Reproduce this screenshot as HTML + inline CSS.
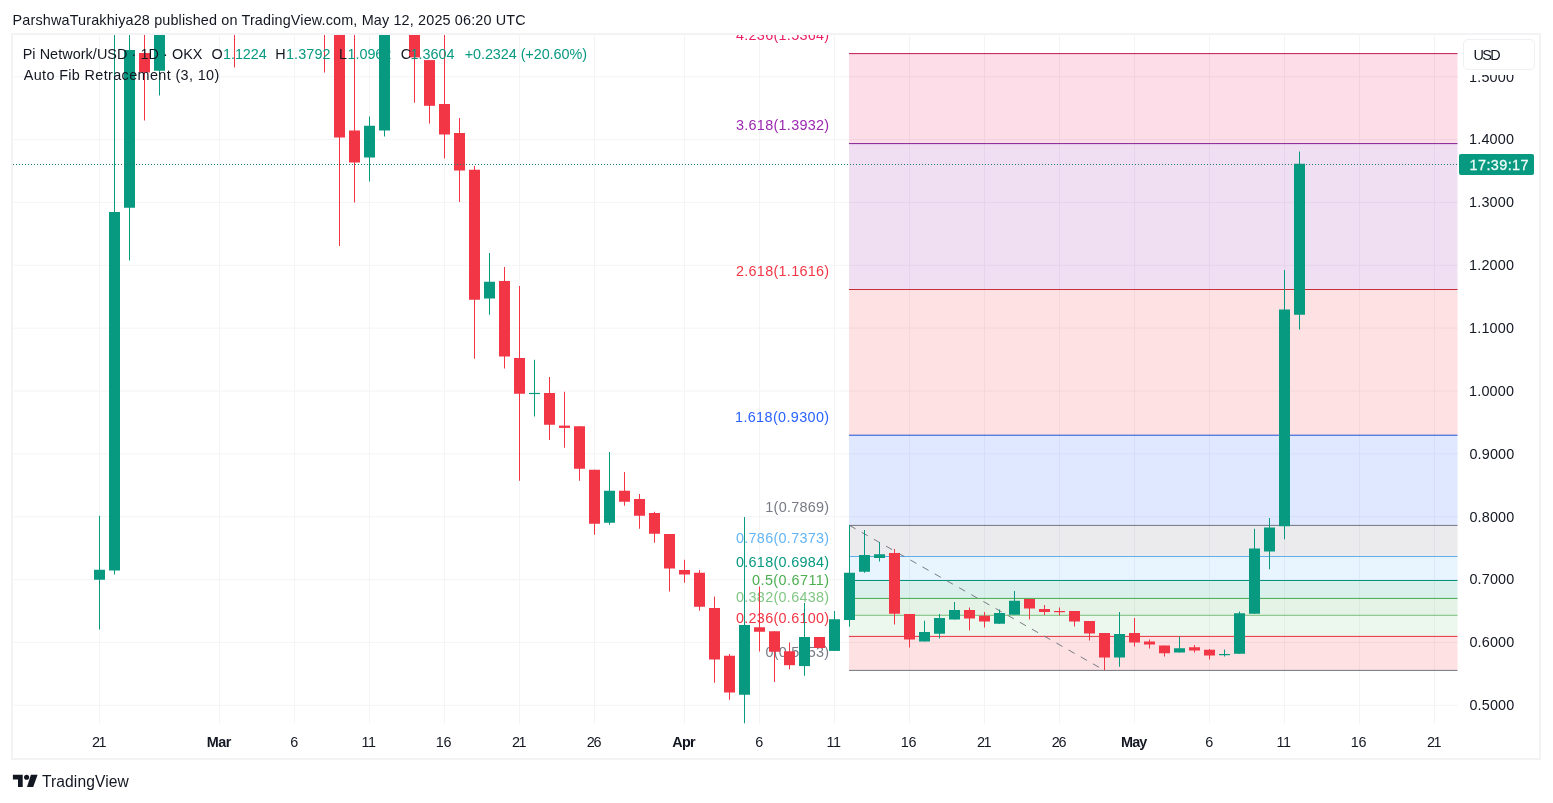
<!DOCTYPE html>
<html lang="en"><head><meta charset="utf-8"><title>Pi Network/USD chart - TradingView</title>
<style>
html,body{margin:0;padding:0;background:#fff}
body{width:1553px;height:803px;position:relative;overflow:hidden;font-family:"Liberation Sans", Arial, sans-serif;font-size:14.4px;color:#131722}
.t{position:absolute;white-space:pre;line-height:14.4px;height:14.4px;margin:0;padding:0}
.g{color:#089981}
.b{font-weight:bold}
#frame{position:absolute;left:11.3px;top:33.2px;width:1530px;height:726.7px;border:2px solid #f3f3f5;box-sizing:border-box}
#chart{position:absolute;left:0;top:0}
#usd{position:absolute;left:1462.5px;top:39px;width:72px;height:31px;box-sizing:border-box;border:1px solid #eff0f3;border-radius:5px;background:#fff}
#cd{position:absolute;left:1458.8px;top:153.9px;width:74.9px;height:20.9px;background:#089981;border-radius:2px}
#cd .t{color:#fff}
</style></head><body>
<svg id="chart" width="1553" height="803" viewBox="0 0 1553 803">
<defs><clipPath id="cp"><rect x="13" y="34.5" width="1445" height="689.0"/></clipPath></defs>
<g id="grid" fill="#f3f4f6">
<rect x="99" y="34.5" width="1" height="689.0"/>
<rect x="219" y="34.5" width="1" height="689.0"/>
<rect x="294" y="34.5" width="1" height="689.0"/>
<rect x="369" y="34.5" width="1" height="689.0"/>
<rect x="444" y="34.5" width="1" height="689.0"/>
<rect x="519" y="34.5" width="1" height="689.0"/>
<rect x="594" y="34.5" width="1" height="689.0"/>
<rect x="684" y="34.5" width="1" height="689.0"/>
<rect x="759" y="34.5" width="1" height="689.0"/>
<rect x="834" y="34.5" width="1" height="689.0"/>
<rect x="909" y="34.5" width="1" height="689.0"/>
<rect x="984" y="34.5" width="1" height="689.0"/>
<rect x="1059" y="34.5" width="1" height="689.0"/>
<rect x="1134" y="34.5" width="1" height="689.0"/>
<rect x="1209" y="34.5" width="1" height="689.0"/>
<rect x="1284" y="34.5" width="1" height="689.0"/>
<rect x="1359" y="34.5" width="1" height="689.0"/>
<rect x="1434" y="34.5" width="1" height="689.0"/>
<rect x="13" y="704.8" width="1445" height="1"/>
<rect x="13" y="641.9" width="1445" height="1"/>
<rect x="13" y="579.1" width="1445" height="1"/>
<rect x="13" y="516.2" width="1445" height="1"/>
<rect x="13" y="453.4" width="1445" height="1"/>
<rect x="13" y="390.5" width="1445" height="1"/>
<rect x="13" y="327.6" width="1445" height="1"/>
<rect x="13" y="264.8" width="1445" height="1"/>
<rect x="13" y="201.9" width="1445" height="1"/>
<rect x="13" y="139.1" width="1445" height="1"/>
<rect x="13" y="76.2" width="1445" height="1"/>
</g>
<g id="fib" clip-path="url(#cp)">
<rect x="849" y="53.6" width="608.5" height="90.00" fill="#e91e63" fill-opacity="0.15"/>
<rect x="849" y="143.6" width="608.5" height="145.90" fill="#9c27b0" fill-opacity="0.15"/>
<rect x="849" y="289.5" width="608.5" height="145.70" fill="#f23645" fill-opacity="0.15"/>
<rect x="849" y="435.2" width="608.5" height="90.20" fill="#2962ff" fill-opacity="0.15"/>
<rect x="849" y="525.4" width="608.5" height="31.10" fill="#787b86" fill-opacity="0.15"/>
<rect x="849" y="556.5" width="608.5" height="24.00" fill="#64b5f6" fill-opacity="0.15"/>
<rect x="849" y="580.5" width="608.5" height="17.90" fill="#089981" fill-opacity="0.15"/>
<rect x="849" y="598.4" width="608.5" height="16.90" fill="#4caf50" fill-opacity="0.15"/>
<rect x="849" y="615.3" width="608.5" height="21.10" fill="#81c784" fill-opacity="0.15"/>
<rect x="849" y="636.4" width="608.5" height="34.00" fill="#f23645" fill-opacity="0.15"/>
<rect x="849" y="53.10" width="608.5" height="1" fill="#c31953"/>
<rect x="849" y="143.10" width="608.5" height="1" fill="#832093"/>
<rect x="849" y="289.00" width="608.5" height="1" fill="#cb2d39"/>
<rect x="849" y="434.70" width="608.5" height="1" fill="#2252d6"/>
<rect x="849" y="524.90" width="608.5" height="1" fill="#737680"/>
<rect x="849" y="556.00" width="608.5" height="1" fill="#60adec"/>
<rect x="849" y="580.00" width="608.5" height="1" fill="#07927b"/>
<rect x="849" y="597.90" width="608.5" height="1" fill="#48a84c"/>
<rect x="849" y="614.80" width="608.5" height="1" fill="#7bbf7e"/>
<rect x="849" y="635.90" width="608.5" height="1" fill="#e83342"/>
<rect x="849" y="669.90" width="608.5" height="1" fill="#737680"/>
<line x1="849.5" y1="525.4" x2="1104.5" y2="670.4" stroke="#787b86" stroke-width="1" stroke-dasharray="7 7"/>
</g>
<g id="fiblabels" clip-path="url(#cp)" font-family="Liberation Sans, Arial, sans-serif" font-size="14.4">
<text id="fib4_236" x="736.00" y="40.0" fill="#e91e63" style="letter-spacing:0.290px">4.236(1.5364)</text>
<text id="fib3_618" x="736.00" y="130.0" fill="#9c27b0" style="letter-spacing:0.290px">3.618(1.3932)</text>
<text id="fib2_618" x="736.00" y="275.9" fill="#f23645" style="letter-spacing:0.290px">2.618(1.1616)</text>
<text id="fib1_618" x="735.00" y="421.6" fill="#2962ff" style="letter-spacing:0.373px">1.618(0.9300)</text>
<text id="fib1" x="765.30" y="511.8" fill="#787b86" style="letter-spacing:0.274px">1(0.7869)</text>
<text id="fib0_786" x="736.00" y="542.9" fill="#64b5f6" style="letter-spacing:0.290px">0.786(0.7373)</text>
<text id="fib0_618" x="736.00" y="566.9" fill="#089981" style="letter-spacing:0.290px">0.618(0.6984)</text>
<text id="fib0_5" x="752.00" y="584.8" fill="#4caf50" style="letter-spacing:0.456px">0.5(0.6711)</text>
<text id="fib0_382" x="736.00" y="601.7" fill="#81c784" style="letter-spacing:0.290px">0.382(0.6438)</text>
<text id="fib0_236" x="736.00" y="622.8" fill="#f23645" style="letter-spacing:0.290px">0.236(0.6100)</text>
<text id="fib0" x="765.50" y="656.8" fill="#787b86" style="letter-spacing:0.249px">0(0.5553)</text>
</g>
<g id="candles" clip-path="url(#cp)">
<rect x="99" y="515.75" width="1" height="113.75" fill="#089981"/>
<rect x="94" y="569.75" width="11" height="10.00" fill="#089981"/>
<rect x="114" y="30" width="1" height="544.50" fill="#089981"/>
<rect x="109" y="212" width="11" height="358.50" fill="#089981"/>
<rect x="129" y="30" width="1" height="230.50" fill="#089981"/>
<rect x="124" y="50" width="11" height="157.75" fill="#089981"/>
<rect x="144" y="30" width="1" height="90.50" fill="#f23645"/>
<rect x="139" y="53" width="11" height="19.50" fill="#f23645"/>
<rect x="159" y="30" width="1" height="65.50" fill="#089981"/>
<rect x="154" y="30" width="11" height="40.75" fill="#089981"/>
<rect x="234" y="30" width="1" height="37.50" fill="#f23645"/>
<rect x="324" y="30" width="1" height="42.50" fill="#f23645"/>
<rect x="339" y="30" width="1" height="216.00" fill="#f23645"/>
<rect x="334" y="30" width="11" height="107.50" fill="#f23645"/>
<rect x="354" y="30" width="1" height="172.50" fill="#f23645"/>
<rect x="349" y="130.5" width="11" height="32.00" fill="#f23645"/>
<rect x="369" y="116.5" width="1" height="65.00" fill="#089981"/>
<rect x="364" y="125.75" width="11" height="31.75" fill="#089981"/>
<rect x="384" y="30" width="1" height="106.50" fill="#089981"/>
<rect x="379" y="30" width="11" height="100.50" fill="#089981"/>
<rect x="414" y="30" width="1" height="72.70" fill="#f23645"/>
<rect x="409" y="30" width="11" height="27.40" fill="#f23645"/>
<rect x="429" y="60.1" width="1" height="63.50" fill="#f23645"/>
<rect x="424" y="60.1" width="11" height="45.70" fill="#f23645"/>
<rect x="444" y="30" width="1" height="128.50" fill="#f23645"/>
<rect x="439" y="104" width="11" height="30.50" fill="#f23645"/>
<rect x="459" y="118" width="1" height="84.00" fill="#f23645"/>
<rect x="454" y="133" width="11" height="37.50" fill="#f23645"/>
<rect x="474" y="166" width="1" height="192.75" fill="#f23645"/>
<rect x="469" y="169.75" width="11" height="130.00" fill="#f23645"/>
<rect x="489" y="253" width="1" height="61.75" fill="#089981"/>
<rect x="484" y="281.75" width="11" height="16.75" fill="#089981"/>
<rect x="504" y="267" width="1" height="101.50" fill="#f23645"/>
<rect x="499" y="281" width="11" height="75.50" fill="#f23645"/>
<rect x="519" y="286" width="1" height="194.75" fill="#f23645"/>
<rect x="514" y="358" width="11" height="35.75" fill="#f23645"/>
<rect x="534" y="359.75" width="1" height="56.75" fill="#089981"/>
<rect x="529" y="392.9" width="11" height="1.20" fill="#089981"/>
<rect x="549" y="377" width="1" height="63.00" fill="#f23645"/>
<rect x="544" y="393" width="11" height="31.75" fill="#f23645"/>
<rect x="564" y="391.75" width="1" height="56.00" fill="#f23645"/>
<rect x="559" y="425.6" width="11" height="2.30" fill="#f23645"/>
<rect x="579" y="426.25" width="1" height="54.50" fill="#f23645"/>
<rect x="574" y="426.25" width="11" height="42.50" fill="#f23645"/>
<rect x="594" y="469.75" width="1" height="65.00" fill="#f23645"/>
<rect x="589" y="469.75" width="11" height="54.00" fill="#f23645"/>
<rect x="609" y="452" width="1" height="72.75" fill="#089981"/>
<rect x="604" y="490.75" width="11" height="32.00" fill="#089981"/>
<rect x="624" y="472" width="1" height="33.75" fill="#f23645"/>
<rect x="619" y="490.75" width="11" height="11.00" fill="#f23645"/>
<rect x="639" y="494" width="1" height="34.75" fill="#f23645"/>
<rect x="634" y="499" width="11" height="16.75" fill="#f23645"/>
<rect x="654" y="511.75" width="1" height="31.00" fill="#f23645"/>
<rect x="649" y="513" width="11" height="20.75" fill="#f23645"/>
<rect x="669" y="534" width="1" height="57.50" fill="#f23645"/>
<rect x="664" y="534" width="11" height="34.50" fill="#f23645"/>
<rect x="684" y="559.75" width="1" height="23.00" fill="#f23645"/>
<rect x="679" y="570" width="11" height="4.50" fill="#f23645"/>
<rect x="699" y="570" width="1" height="40.75" fill="#f23645"/>
<rect x="694" y="572.75" width="11" height="34.00" fill="#f23645"/>
<rect x="714" y="596.5" width="1" height="86.25" fill="#f23645"/>
<rect x="709" y="608" width="11" height="51.50" fill="#f23645"/>
<rect x="729" y="654" width="1" height="45.75" fill="#f23645"/>
<rect x="724" y="655.75" width="11" height="36.75" fill="#f23645"/>
<rect x="744" y="517" width="1" height="206.50" fill="#089981"/>
<rect x="739" y="625" width="11" height="69.75" fill="#089981"/>
<rect x="759" y="586.5" width="1" height="65.00" fill="#f23645"/>
<rect x="754" y="627.25" width="11" height="4.50" fill="#f23645"/>
<rect x="774" y="631.25" width="1" height="50.75" fill="#f23645"/>
<rect x="769" y="631.25" width="11" height="20.50" fill="#f23645"/>
<rect x="789" y="642.5" width="1" height="26.75" fill="#f23645"/>
<rect x="784" y="651.25" width="11" height="13.95" fill="#f23645"/>
<rect x="804" y="603" width="1" height="72.75" fill="#089981"/>
<rect x="799" y="637" width="11" height="29.10" fill="#089981"/>
<rect x="819" y="637" width="1" height="11.00" fill="#f23645"/>
<rect x="814" y="637" width="11" height="11.00" fill="#f23645"/>
<rect x="834" y="611" width="1" height="39.90" fill="#089981"/>
<rect x="829" y="619.25" width="11" height="31.65" fill="#089981"/>
<rect x="849" y="525" width="1" height="101.75" fill="#089981"/>
<rect x="844" y="572.75" width="11" height="47.25" fill="#089981"/>
<rect x="864" y="530" width="1" height="42.75" fill="#089981"/>
<rect x="859" y="555" width="11" height="16.75" fill="#089981"/>
<rect x="879" y="542" width="1" height="19.50" fill="#089981"/>
<rect x="874" y="554.25" width="11" height="3.75" fill="#089981"/>
<rect x="894" y="549" width="1" height="75.50" fill="#f23645"/>
<rect x="889" y="553" width="11" height="60.75" fill="#f23645"/>
<rect x="909" y="614" width="1" height="33.50" fill="#f23645"/>
<rect x="904" y="614" width="11" height="25.50" fill="#f23645"/>
<rect x="924" y="620.75" width="1" height="20.75" fill="#089981"/>
<rect x="919" y="632" width="11" height="9.50" fill="#089981"/>
<rect x="939" y="614" width="1" height="24.50" fill="#089981"/>
<rect x="934" y="618" width="11" height="15.75" fill="#089981"/>
<rect x="954" y="602" width="1" height="17.50" fill="#089981"/>
<rect x="949" y="610" width="11" height="9.50" fill="#089981"/>
<rect x="969" y="607.5" width="1" height="23.00" fill="#f23645"/>
<rect x="964" y="610" width="11" height="8.50" fill="#f23645"/>
<rect x="984" y="612" width="1" height="15.50" fill="#f23645"/>
<rect x="979" y="615.75" width="11" height="5.75" fill="#f23645"/>
<rect x="999" y="609.5" width="1" height="14.50" fill="#089981"/>
<rect x="994" y="613" width="11" height="10.75" fill="#089981"/>
<rect x="1014" y="591" width="1" height="23.75" fill="#089981"/>
<rect x="1009" y="600.75" width="11" height="14.00" fill="#089981"/>
<rect x="1029" y="599" width="1" height="20.50" fill="#f23645"/>
<rect x="1024" y="599" width="11" height="9.50" fill="#f23645"/>
<rect x="1044" y="605" width="1" height="10.00" fill="#f23645"/>
<rect x="1039" y="609" width="11" height="3.00" fill="#f23645"/>
<rect x="1059" y="607.5" width="1" height="8.00" fill="#f23645"/>
<rect x="1054" y="611" width="11" height="1.20" fill="#f23645"/>
<rect x="1074" y="611" width="1" height="15.50" fill="#f23645"/>
<rect x="1069" y="611" width="11" height="10.50" fill="#f23645"/>
<rect x="1089" y="621" width="1" height="19.50" fill="#f23645"/>
<rect x="1084" y="621" width="11" height="12.50" fill="#f23645"/>
<rect x="1104" y="633" width="1" height="37.25" fill="#f23645"/>
<rect x="1099" y="633" width="11" height="24.50" fill="#f23645"/>
<rect x="1119" y="612" width="1" height="54.75" fill="#089981"/>
<rect x="1114" y="634" width="11" height="23.50" fill="#089981"/>
<rect x="1134" y="618" width="1" height="28.50" fill="#f23645"/>
<rect x="1129" y="633" width="11" height="9.50" fill="#f23645"/>
<rect x="1149" y="639.5" width="1" height="9.00" fill="#f23645"/>
<rect x="1144" y="641.5" width="11" height="3.00" fill="#f23645"/>
<rect x="1164" y="645.5" width="1" height="11.00" fill="#f23645"/>
<rect x="1159" y="645.5" width="11" height="7.75" fill="#f23645"/>
<rect x="1179" y="636.5" width="1" height="16.00" fill="#089981"/>
<rect x="1174" y="648.25" width="11" height="4.25" fill="#089981"/>
<rect x="1194" y="645" width="1" height="7.50" fill="#f23645"/>
<rect x="1189" y="647.25" width="11" height="3.25" fill="#f23645"/>
<rect x="1209" y="649" width="1" height="10.50" fill="#f23645"/>
<rect x="1204" y="649.75" width="11" height="5.75" fill="#f23645"/>
<rect x="1224" y="649.5" width="1" height="7.00" fill="#089981"/>
<rect x="1219" y="654" width="11" height="1.20" fill="#089981"/>
<rect x="1239" y="611.5" width="1" height="42.25" fill="#089981"/>
<rect x="1234" y="613.25" width="11" height="40.50" fill="#089981"/>
<rect x="1254" y="528.75" width="1" height="85.00" fill="#089981"/>
<rect x="1249" y="548.5" width="11" height="65.25" fill="#089981"/>
<rect x="1269" y="518" width="1" height="51.25" fill="#089981"/>
<rect x="1264" y="527.5" width="11" height="24.00" fill="#089981"/>
<rect x="1284" y="270" width="1" height="269.25" fill="#089981"/>
<rect x="1279" y="309.5" width="11" height="216.75" fill="#089981"/>
<rect x="1299" y="151.5" width="1" height="178.00" fill="#089981"/>
<rect x="1294" y="163.75" width="11" height="151.00" fill="#089981"/>
</g>
<line x1="13" y1="164.5" x2="1458" y2="164.5" stroke="#1f7f6f" stroke-width="1" stroke-dasharray="1 2"/>
<g id="logo" fill="#131722"><path d="M12.9 774.7H22.7V787H18V779.6H12.9z"/><circle cx="26.6" cy="777.3" r="2.55"/><path d="M30.9 774.7H37.6L33.2 787H27z"/></g>
</svg>
<div id="frame"></div>
<div id="hdr" class="t " style="left:12.60px;top:12.51px;letter-spacing:0.153px;">ParshwaTurakhiya28 published on TradingView.com, May 12, 2025 06:20 UTC</div>
<div id="lg_sym" class="t " style="left:22.70px;top:47.21px;letter-spacing:0.058px;">Pi Network/USD · 1D · OKX</div>
<div id="lg_O" class="t " style="left:211.60px;top:47.21px;letter-spacing:0.000px;">O</div>
<div id="lg_Ov" class="t g" style="left:223.00px;top:47.21px;letter-spacing:-0.062px;">1.1224</div>
<div id="lg_H" class="t " style="left:275.30px;top:47.21px;letter-spacing:0.000px;">H</div>
<div id="lg_Hv" class="t g" style="left:286.00px;top:47.21px;letter-spacing:0.098px;">1.3792</div>
<div id="lg_L" class="t " style="left:339.05px;top:47.21px;letter-spacing:0.000px;">L</div>
<div id="lg_Lv" class="t g" style="left:347.60px;top:47.21px;letter-spacing:-0.062px;">1.0962</div>
<div id="lg_C" class="t " style="left:400.80px;top:47.21px;letter-spacing:0.000px;">C</div>
<div id="lg_Cv" class="t g" style="left:410.60px;top:47.21px;letter-spacing:-0.042px;">1.3604</div>
<div id="lg_chg" class="t g" style="left:464.70px;top:47.21px;letter-spacing:-0.058px;">+0.2324 (+20.60%)</div>
<div id="lg_ind" class="t " style="left:23.70px;top:67.71px;letter-spacing:0.368px;">Auto Fib Retracement (3, 10)</div>
<div id="pa0" class="t " style="left:1469.00px;top:69.61px;letter-spacing:0.198px;">1.5000</div>
<div id="pa1" class="t " style="left:1469.00px;top:132.47px;letter-spacing:0.198px;">1.4000</div>
<div id="pa2" class="t " style="left:1469.00px;top:195.33px;letter-spacing:0.198px;">1.3000</div>
<div id="pa3" class="t " style="left:1469.00px;top:258.19px;letter-spacing:0.198px;">1.2000</div>
<div id="pa4" class="t " style="left:1469.00px;top:321.05px;letter-spacing:0.198px;">1.1000</div>
<div id="pa5" class="t " style="left:1469.00px;top:383.91px;letter-spacing:0.198px;">1.0000</div>
<div id="pa6" class="t " style="left:1469.40px;top:446.77px;letter-spacing:0.178px;">0.9000</div>
<div id="pa7" class="t " style="left:1469.40px;top:509.63px;letter-spacing:0.178px;">0.8000</div>
<div id="pa8" class="t " style="left:1469.40px;top:572.49px;letter-spacing:0.178px;">0.7000</div>
<div id="pa9" class="t " style="left:1469.40px;top:635.35px;letter-spacing:0.178px;">0.6000</div>
<div id="pa10" class="t " style="left:1469.40px;top:698.21px;letter-spacing:0.178px;">0.5000</div>
<div id="usdmask" style="position:absolute;left:1459px;top:35px;width:79px;height:40px;background:#fff"></div>
<div id="usd"></div>
<div id="usdt" class="t " style="left:1473.50px;top:47.61px;letter-spacing:-1.645px;">USD</div>
<div id="cd"></div>
<div id="cdt" class="t " style="left:1469.60px;top:157.61px;letter-spacing:0.412px;color:#eefbf8;-webkit-text-stroke:0.3px #eefbf8;">17:39:17</div>
<div id="tl0" class="t " style="left:91.90px;top:734.81px;letter-spacing:-1.403px;">21</div>
<div id="tl1" class="t b" style="left:206.70px;top:734.81px;letter-spacing:-0.495px;">Mar</div>
<div id="tl2" class="t " style="left:290.20px;top:734.81px;letter-spacing:0.000px;">6</div>
<div id="tl3" class="t " style="left:361.40px;top:734.81px;letter-spacing:-0.335px;">11</div>
<div id="tl4" class="t " style="left:435.80px;top:734.81px;letter-spacing:-0.203px;">16</div>
<div id="tl5" class="t " style="left:511.90px;top:734.81px;letter-spacing:-1.403px;">21</div>
<div id="tl6" class="t " style="left:586.80px;top:734.81px;letter-spacing:-1.203px;">26</div>
<div id="tl7" class="t b" style="left:672.33px;top:734.81px;letter-spacing:-0.716px;">Apr</div>
<div id="tl8" class="t " style="left:755.20px;top:734.81px;letter-spacing:0.000px;">6</div>
<div id="tl9" class="t " style="left:826.40px;top:734.81px;letter-spacing:-0.335px;">11</div>
<div id="tl10" class="t " style="left:900.80px;top:734.81px;letter-spacing:-0.203px;">16</div>
<div id="tl11" class="t " style="left:976.90px;top:734.81px;letter-spacing:-1.403px;">21</div>
<div id="tl12" class="t " style="left:1051.80px;top:734.81px;letter-spacing:-1.203px;">26</div>
<div id="tl13" class="t b" style="left:1121.05px;top:734.81px;letter-spacing:-0.845px;">May</div>
<div id="tl14" class="t " style="left:1205.20px;top:734.81px;letter-spacing:0.000px;">6</div>
<div id="tl15" class="t " style="left:1276.40px;top:734.81px;letter-spacing:-0.335px;">11</div>
<div id="tl16" class="t " style="left:1350.80px;top:734.81px;letter-spacing:-0.203px;">16</div>
<div id="tl17" class="t " style="left:1426.90px;top:734.81px;letter-spacing:-1.403px;">21</div>
<div id="tvw" class="t " style="left:41.90px;top:774.09px;letter-spacing:0.115px;font-size:15.6px;line-height:15.6px;height:15.6px;">TradingView</div>
</body></html>
